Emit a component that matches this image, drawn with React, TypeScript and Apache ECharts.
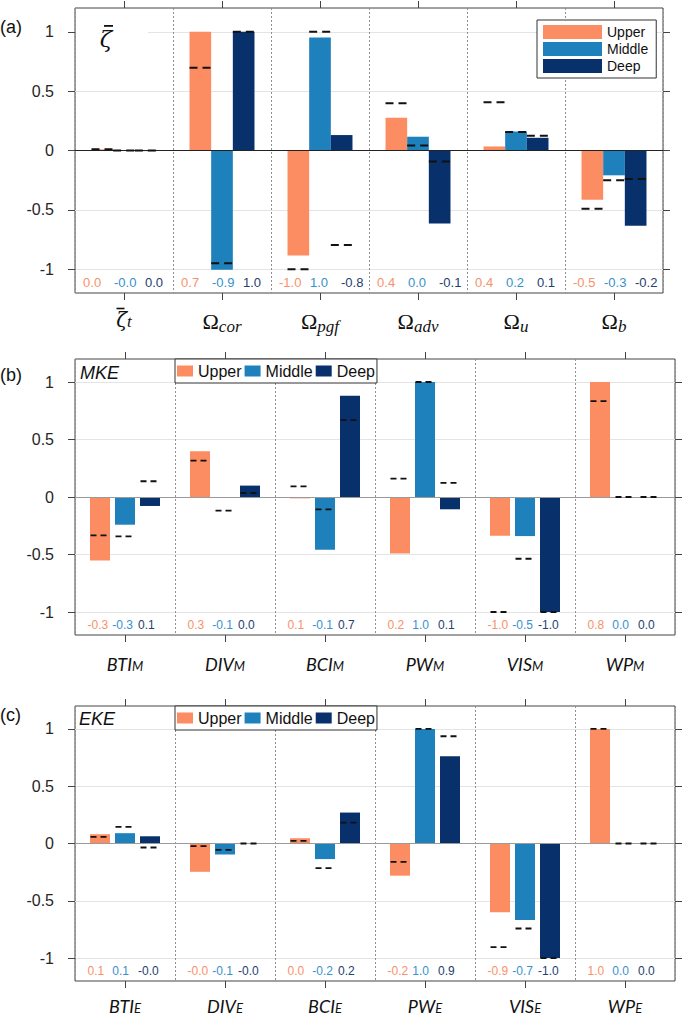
import React, { useEffect, useRef } from 'react';
import * as echarts from 'echarts';

// ---------- data ----------
const LEVELS = ['Upper', 'Middle', 'Deep'];
const BAR_COLORS = ['#fc8d62', '#1f81bb', '#08306b'];
const LABEL_COLORS = ['#f9916b', '#3791cc', '#24406f'];
const Y_TICKS = [-1, -0.5, 0, 0.5, 1];

// panel (a)  (ζ̄ = zeta with overbar)
const catsA = ['\u03B6\u0304_t', '\u03A9_cor', '\u03A9_pgf', '\u03A9_adv', '\u03A9_u', '\u03A9_b'];
const upperA = [0.01, 1.0, -0.885, 0.276, 0.034, -0.414];
const middleA = [-0.005, -1.005, 0.952, 0.116, 0.16, -0.209];
const deepA = [-0.005, 1.0, 0.13, -0.614, 0.107, -0.634];
const dashUpperA = [0.01, 0.696, -1.0, 0.397, 0.406, -0.49];
const dashMiddleA = [0.0, -0.95, 1.0, 0.042, 0.155, -0.25];
const dashDeepA = [0.0, 1.0, -0.795, -0.093, 0.124, -0.24];
const labelUpperA = ['0.0', '0.7', '-1.0', '0.4', '0.4', '-0.5'];
const labelMiddleA = ['-0.0', '-0.9', '1.0', '0.0', '0.2', '-0.3'];
const labelDeepA = ['0.0', '1.0', '-0.8', '-0.1', '0.1', '-0.2'];

// panel (b)
const catsB = ['BTI_M', 'DIV_M', 'BCI_M', 'PW_M', 'VIS_M', 'WP_M'];
const upperB = [-0.552, 0.398, -0.012, -0.491, -0.337, 1.0];
const middleB = [-0.241, 0.0, -0.459, 1.0, -0.34, 0.0];
const deepB = [-0.078, 0.099, 0.881, -0.107, -1.0, 0.0];
const dashUpperB = [-0.334, 0.317, 0.093, 0.16, -1.0, 0.834];
const dashMiddleB = [-0.343, -0.119, -0.107, 1.0, -0.537, 0.0];
const dashDeepB = [0.137, 0.035, 0.669, 0.122, -1.0, 0.0];
const labelUpperB = ['-0.3', '0.3', '0.1', '0.2', '-1.0', '0.8'];
const labelMiddleB = ['-0.3', '-0.1', '-0.1', '1.0', '-0.5', '0.0'];
const labelDeepB = ['0.1', '0.0', '0.7', '0.1', '-1.0', '0.0'];

// panel (c)
const catsC = ['BTI_E', 'DIV_E', 'BCI_E', 'PW_E', 'VIS_E', 'WP_E'];
const upperC = [0.081, -0.247, 0.046, -0.281, -0.6, 1.0];
const middleC = [0.09, -0.096, -0.136, 1.0, -0.667, 0.0];
const deepC = [0.063, 0.0, 0.27, 0.762, -1.0, 0.0];
const dashUpperC = [0.058, -0.023, 0.023, -0.16, -0.904, 1.0];
const dashMiddleC = [0.145, -0.055, -0.215, 1.0, -0.742, 0.0];
const dashDeepC = [-0.035, 0.0, 0.183, 0.936, -1.0, 0.0];
const labelUpperC = ['0.1', '-0.0', '0.0', '-0.2', '-0.9', '1.0'];
const labelMiddleC = ['0.1', '-0.1', '-0.2', '1.0', '-0.7', '0.0'];
const labelDeepC = ['-0.0', '-0.0', '0.2', '0.9', '-1.0', '0.0'];

// ---------- styling ----------
const SANS = "'Liberation Sans', Arial, Helvetica, sans-serif";
const SERIF = "'Liberation Serif', 'DejaVu Serif', serif";
const MATH = "'DejaVu Serif', 'Liberation Serif', serif";
const CAL = "Lato, 'Open Sans', 'Liberation Sans', sans-serif";
const AXIS_COLOR = '#444';

const richA = {
  b: { fontFamily: SERIF, fontSize: 22, color: '#111', lineHeight: 28, verticalAlign: 'middle' },
  s: { fontFamily: SERIF, fontSize: 17, fontStyle: 'italic', color: '#111', lineHeight: 16, verticalAlign: 'bottom' },
  bar: { width: 8, height: 1.6, lineHeight: 3, fontSize: 1, backgroundColor: '#111' },
  gap: { width: 7, lineHeight: 3, fontSize: 1 },
  z: { fontFamily: MATH, fontSize: 20, fontStyle: 'italic', color: '#111', lineHeight: 20, verticalAlign: 'middle' },
  t: { fontFamily: SERIF, fontSize: 17, fontStyle: 'italic', color: '#111', lineHeight: 12, verticalAlign: 'bottom' },
};
const richBC = {
  b: { fontFamily: CAL, fontSize: 18, fontStyle: 'italic', color: '#111', lineHeight: 17, verticalAlign: 'middle' },
  s: { fontFamily: CAL, fontSize: 13, fontStyle: 'italic', color: '#111', lineHeight: 10, verticalAlign: 'bottom' },
};

const legendHoriz = (top: number) => ({
  orient: 'horizontal',
  left: 175,
  top,
  icon: 'rect',
  itemWidth: 16,
  itemHeight: 11,
  itemGap: 3,
  padding: [4, 2, 4, 2],
  backgroundColor: '#fff',
  borderColor: '#333',
  borderWidth: 1,
  borderRadius: 0,
  textStyle: { fontSize: 16, color: '#111', fontFamily: SANS },
  data: LEVELS,
});

const panels = [
  {
    kind: 'a',
    cats: catsA,
    bars: [upperA, middleA, deepA],
    dashes: [dashUpperA, dashMiddleA, dashDeepA],
    labels: [labelUpperA, labelMiddleA, labelDeepA],
    grid: { left: 75, right: 22, top: 8, height: 285 },
    barWidth: '22.1%',
    barGap: '0%',
    dashSpacing: 0.221,
    dashWidth: 0.221,
    dashLine: 2,
    dashPattern: [8, 5],
    labelOffsets: [-0.418, -0.102, 0.214],
    labelFont: 13,
    labelBottom: 11,
    zeroColor: '#222',
    yMargin: 21,
    xMargin: 14,
    rich: richA,
    legend: {
      orient: 'vertical',
      left: 537,
      top: 20,
      icon: 'rect',
      itemWidth: 59,
      itemHeight: 14,
      itemGap: 3,
      padding: [5, 8, 5, 6],
      backgroundColor: '#fff',
      borderColor: '#333',
      borderWidth: 1,
      textStyle: { fontSize: 14, color: '#111', fontFamily: SANS },
      data: LEVELS,
    },
  },
  {
    kind: 'b',
    cats: catsB,
    bars: [upperB, middleB, deepB],
    dashes: [dashUpperB, dashMiddleB, dashDeepB],
    labels: [labelUpperB, labelMiddleB, labelDeepB],
    grid: { left: 75, right: 10, top: 359, height: 276 },
    barWidth: '20%',
    barGap: '25%',
    dashSpacing: 0.25,
    dashWidth: 0.19,
    dashLine: 1.8,
    dashPattern: [6, 4],
    labelOffsets: [-0.375, -0.127, 0.13],
    labelFont: 12,
    labelBottom: 10,
    zeroColor: '#9a9a9a',
    yMargin: 21,
    xMargin: 20,
    rich: richBC,
    legend: legendHoriz(359),
  },
  {
    kind: 'c',
    cats: catsC,
    bars: [upperC, middleC, deepC],
    dashes: [dashUpperC, dashMiddleC, dashDeepC],
    labels: [labelUpperC, labelMiddleC, labelDeepC],
    grid: { left: 75, right: 10, top: 706, height: 275 },
    barWidth: '20%',
    barGap: '25%',
    dashSpacing: 0.25,
    dashWidth: 0.19,
    dashLine: 1.8,
    dashPattern: [6, 4],
    labelOffsets: [-0.375, -0.127, 0.13],
    labelFont: 12,
    labelBottom: 10,
    zeroColor: '#9a9a9a',
    yMargin: 21,
    xMargin: 16,
    rich: richBC,
    legend: legendHoriz(706),
  },
];

const subFormatter = (v: string) => {
  const parts = v.split('_');
  if (parts[0].charAt(0) === '\u03B6') {
    // zeta with an overbar drawn as a rich-text bar above it
    return `{bar| }{gap| }\n{z|\u03B6}{t|${parts[1]}}`;
  }
  return `{b|${parts[0]}}{s|${parts[1]}}`;
};

function buildOption() {
  const grid: any[] = [];
  const xAxis: any[] = [];
  const yAxis: any[] = [];
  const series: any[] = [];
  const legend: any[] = [];

  panels.forEach((p, pi) => {
    grid.push({
      ...p.grid,
      show: true,
      borderColor: AXIS_COLOR,
      borderWidth: 1,
      backgroundColor: '#fff',
      containLabel: false,
      outerBoundsMode: 'none',
    });

    xAxis.push({
      type: 'category',
      gridIndex: pi,
      data: p.cats,
      position: 'bottom',
      boundaryGap: true,
      axisLine: { show: false, onZero: false },
      axisTick: { show: true, alignWithLabel: true, inside: false, length: 7, lineStyle: { color: AXIS_COLOR } },
      axisLabel: { show: true, interval: 0, margin: p.xMargin, formatter: subFormatter, rich: p.rich },
      splitLine: { show: true, interval: 0, lineStyle: { color: '#8f8f8f', width: 1, type: [2, 2] } },
    });
    xAxis.push({
      type: 'category',
      gridIndex: pi,
      data: p.cats,
      position: 'top',
      boundaryGap: true,
      axisLine: { show: false, onZero: false },
      axisTick: { show: true, alignWithLabel: true, inside: false, length: 7, lineStyle: { color: AXIS_COLOR } },
      axisLabel: { show: false },
      splitLine: { show: false },
    });

    yAxis.push({
      type: 'value',
      gridIndex: pi,
      position: 'left',
      min: -1.2,
      max: 1.2,
      axisLine: { show: false, onZero: false },
      axisTick: { show: true, inside: false, length: 7, lineStyle: { color: AXIS_COLOR }, customValues: Y_TICKS },
      axisLabel: {
        show: true,
        customValues: Y_TICKS,
        formatter: (v: number) => String(v),
        fontSize: 16,
        color: '#262626',
        fontFamily: SANS,
        margin: p.yMargin,
      },
      splitLine: { show: true, lineStyle: { color: '#e4e4e4', width: 1 } },
    });
    yAxis.push({
      type: 'value',
      gridIndex: pi,
      position: 'right',
      min: -1.2,
      max: 1.2,
      axisLine: { show: false, onZero: false },
      axisTick: { show: true, inside: false, length: 7, lineStyle: { color: AXIS_COLOR }, customValues: Y_TICKS },
      axisLabel: { show: false },
      splitLine: { show: false },
    });

    p.bars.forEach((vals, li) => {
      const s: any = {
        type: 'bar',
        name: LEVELS[li],
        xAxisIndex: 2 * pi,
        yAxisIndex: 2 * pi,
        data: vals,
        barWidth: p.barWidth,
        barGap: p.barGap,
        itemStyle: { color: BAR_COLORS[li] },
        z: 2,
      };
      if (li === 0) {
        s.markLine = {
          silent: true,
          symbol: 'none',
          label: { show: false },
          lineStyle: { color: p.zeroColor, width: 1, type: 'solid' },
          data: [{ yAxis: 0 }],
          z: 3,
        };
      }
      series.push(s);
    });

    p.dashes.forEach((vals, li) => {
      series.push({
        type: 'custom',
        name: 'dash-' + LEVELS[li],
        xAxisIndex: 2 * pi,
        yAxisIndex: 2 * pi,
        z: 4,
        data: vals.map((v, i) => [i, v]),
        renderItem: (params: any, api: any) => {
          const c = api.coord([api.value(0), api.value(1)]);
          const band = api.size([1, 0])[0];
          const cx = c[0] + (li - 1) * band * p.dashSpacing;
          const hw = (band * p.dashWidth) / 2;
          return {
            type: 'line',
            shape: { x1: cx - hw, y1: c[1], x2: cx + hw, y2: c[1] },
            style: { stroke: '#111', lineWidth: p.dashLine, lineDash: p.dashPattern },
          };
        },
      });
    });

    p.labels.forEach((labs, li) => {
      series.push({
        type: 'custom',
        name: 'label-' + LEVELS[li],
        xAxisIndex: 2 * pi,
        yAxisIndex: 2 * pi,
        z: 4,
        data: labs.map((_, i) => [i, 0]),
        renderItem: (params: any, api: any) => {
          const c = api.coord([api.value(0), 0]);
          const band = api.size([1, 0])[0];
          const cs = params.coordSys;
          return {
            type: 'text',
            x: c[0] + band * p.labelOffsets[li],
            y: cs.y + cs.height - p.labelBottom,
            style: {
              text: labs[params.dataIndex],
              fill: LABEL_COLORS[li],
              fontSize: p.labelFont,
              fontFamily: SANS,
              align: 'left',
              verticalAlign: 'middle',
            },
          };
        },
      });
    });

    legend.push(p.legend);
  });

  const graphic: any[] = [
    { type: 'text', x: 0, y: 27, z: 20, style: { text: '(a)', fontSize: 18, fontFamily: SANS, fill: '#111', verticalAlign: 'middle' } },
    { type: 'text', x: 0, y: 375, z: 20, style: { text: '(b)', fontSize: 18, fontFamily: SANS, fill: '#111', verticalAlign: 'middle' } },
    { type: 'text', x: 0, y: 715, z: 20, style: { text: '(c)', fontSize: 18, fontFamily: SANS, fill: '#111', verticalAlign: 'middle' } },
    { type: 'rect', z: 10, shape: { x: 76, y: 20, width: 72, height: 28 }, style: { fill: '#fff' } },
    {
      type: 'text',
      x: 106,
      y: 39,
      z: 20,
      style: { text: '\u03B6', fontSize: 23, fontFamily: MATH, fontStyle: 'italic', fill: '#111', align: 'center', verticalAlign: 'middle' },
    },
    { type: 'rect', z: 20, shape: { x: 104, y: 25, width: 9, height: 1.8 }, style: { fill: '#111' } },
    { type: 'text', x: 80, y: 373, z: 20, style: { text: 'MKE', fontSize: 18, fontStyle: 'italic', fontFamily: SANS, fill: '#111', verticalAlign: 'middle' } },
    { type: 'text', x: 79, y: 719, z: 20, style: { text: 'EKE', fontSize: 18, fontStyle: 'italic', fontFamily: SANS, fill: '#111', verticalAlign: 'middle' } },
  ];

  return {
    animation: false,
    backgroundColor: '#fff',
    textStyle: { fontFamily: SANS },
    grid,
    xAxis,
    yAxis,
    legend,
    series,
    graphic,
  };
}

export default function App() {
  const ref = useRef<HTMLDivElement>(null);
  useEffect(() => {
    if (!ref.current) return;
    const chart = echarts.init(ref.current, null, { renderer: 'svg' });
    chart.setOption(buildOption() as any);
    return () => {
      chart.dispose();
    };
  }, []);
  return (
    <div
      ref={ref}
      style={{ position: 'fixed', left: 0, top: 0, width: 685, height: 1018, background: '#fff' }}
    />
  );
}
